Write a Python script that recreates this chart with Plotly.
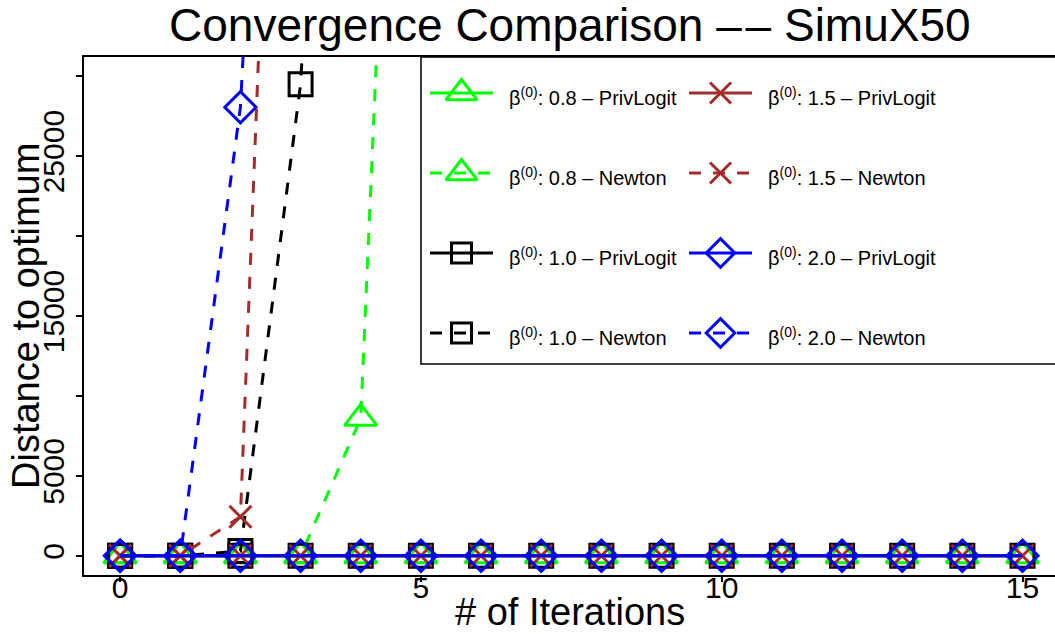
import plotly.graph_objects as go

# ---- data -------------------------------------------------------------
iterations = [0, 1, 2, 3, 4, 5, 6, 7, 8, 9, 10, 11, 12, 13, 14, 15]

# distance to the optimum per iteration (PrivLogit stays at the optimum scale ~0)
privlogit_08 = [0, 0, 0, 0, 0, 0, 0, 0, 0, 0, 0, 0, 0, 0, 0, 0]
privlogit_10 = [0, 0, 0, 0, 0, 0, 0, 0, 0, 0, 0, 0, 0, 0, 0, 0]
privlogit_15 = [0, 0, 0, 0, 0, 0, 0, 0, 0, 0, 0, 0, 0, 0, 0, 0]
privlogit_20 = [0, 0, 0, 0, 0, 0, 0, 0, 0, 0, 0, 0, 0, 0, 0, 0]

# Newton diverges; later iterations are not finite
newton_08 = [0, 0, 0, 0, 8600, 95000] + [None] * 10
newton_10 = [0, 0, 300, 29500, 97000] + [None] * 11
newton_15 = [0, 0, 2440, 98000] + [None] * 12
newton_20 = [0, 0, 28060, 100000] + [None] * 12

series_labels = [
    "β<sup>(0)</sup>: 0.8 – PrivLogit", "β<sup>(0)</sup>: 0.8 – Newton",
    "β<sup>(0)</sup>: 1.0 – PrivLogit", "β<sup>(0)</sup>: 1.0 – Newton",
    "β<sup>(0)</sup>: 1.5 – PrivLogit", "β<sup>(0)</sup>: 1.5 – Newton",
    "β<sup>(0)</sup>: 2.0 – PrivLogit", "β<sup>(0)</sup>: 2.0 – Newton",
]

x_tick_vals = [0, 5, 10, 15]
x_tick_text = ["0", "5", "10", "15"]
y_tick_vals = [0, 5000, 10000, 15000, 20000, 25000, 30000]
y_tick_text = ["0", "5000", "", "15000", "", "25000", ""]

# ---- styles -----------------------------------------------------------
GREEN, BLACK, BROWN, BLUE = "#00FF00", "#000000", "#A52A2A", "#0000FF"
DASH = "12px,12px"
FONT = "Liberation Sans, Arial, Helvetica, sans-serif"

series = [
    (privlogit_08, GREEN, "solid", "triangle-up-open", 28, 27),
    (newton_08, GREEN, DASH, "triangle-up-open", 28, 27),
    (privlogit_10, BLACK, "solid", "square-open", 23, 20),
    (newton_10, BLACK, DASH, "square-open", 23, 20),
    (privlogit_15, BROWN, "solid", "x-thin-open", 22, 21),
    (newton_15, BROWN, DASH, "x-thin-open", 22, 21),
    (privlogit_20, BLUE, "solid", "diamond-open", 24, 22),
    (newton_20, BLUE, DASH, "diamond-open", 24, 22),
]

fig = go.Figure()

for (vals, color, dash, symbol, msize, _), label in zip(series, series_labels):
    fig.add_trace(go.Scatter(
        x=iterations, y=vals, mode="lines+markers", name=label,
        line=dict(color=color, width=3, dash=dash),
        marker=dict(symbol=symbol, size=msize, color=color,
                    line=dict(color=color, width=3)),
        showlegend=False, connectgaps=False,
    ))

# ---- legend drawn on a pixel-scaled overlay axis --------------------
PL, PR, PT, PB = 84, 1055, 57, 575          # plot area in pixels
LEG_LEFT, LEG_BOTTOM = 421, 364
ROW0, ROW_STEP = 93, 80
COL_X = [430, 689]                           # start of each sample line
SAMPLE_W = 63
TEXT_GAP = 77


def paper_x(px):
    return (px - PL) / (PR - PL)


def paper_y(py):
    return (PB - py) / (PB - PT)


shapes = [dict(type="rect", xref="x2", yref="y2", x0=LEG_LEFT, x1=PR + 20,
               y0=PT, y1=LEG_BOTTOM, line=dict(color="black", width=1.5),
               fillcolor="white", layer="below")]
annotations = []

for i, ((vals, color, dash, symbol, _, lsize), label) in enumerate(zip(series, series_labels)):
    col, row = divmod(i, 4)
    x0 = COL_X[col]
    y = ROW0 + row * ROW_STEP
    shapes.append(dict(type="line", xref="x2", yref="y2", x0=x0, x1=x0 + SAMPLE_W,
                       y0=y, y1=y, line=dict(color=color, width=3, dash=dash)))
    fig.add_trace(go.Scatter(
        x=[x0 + SAMPLE_W / 2], y=[y], xaxis="x2", yaxis="y2", mode="markers",
        marker=dict(symbol=symbol, size=lsize, color=color,
                    line=dict(color=color, width=3)),
        showlegend=False, cliponaxis=False, hoverinfo="skip",
    ))
    annotations.append(dict(
        xref="x2", yref="y2", x=x0 + TEXT_GAP, y=y, text=label,
        xanchor="left", yanchor="middle", showarrow=False, yshift=-3,
        font=dict(family=FONT, size=20, color="black"),
    ))

# ---- titles -----------------------------------------------------------
annotations.append(dict(xref="paper", yref="paper", x=paper_x(570), y=paper_y(25),
                        text="Convergence Comparison –\u200a– SimuX50",
                        showarrow=False, xanchor="center", yanchor="middle",
                        font=dict(family=FONT, size=46, color="black")))
annotations.append(dict(xref="paper", yref="paper", x=paper_x(570), y=paper_y(612),
                        text="# of Iterations",
                        showarrow=False, xanchor="center", yanchor="middle",
                        font=dict(family=FONT, size=38, color="black")))
annotations.append(dict(xref="paper", yref="paper", x=paper_x(26), y=paper_y(316),
                        text="Distance to optimum",
                        showarrow=False, xanchor="center", yanchor="middle", textangle=-90,
                        font=dict(family=FONT, size=38, color="black")))

fig.update_layout(
    width=1055, height=634,
    margin=dict(l=PL, r=0, t=PT, b=634 - PB, pad=0),
    paper_bgcolor="white", plot_bgcolor="white",
    font=dict(family=FONT, color="black"),
    showlegend=False,
    xaxis=dict(range=[-0.6, 15.54], tickvals=x_tick_vals, ticktext=x_tick_text,
               showgrid=False, zeroline=False, showline=True, mirror=True,
               linecolor="black", linewidth=1.5, ticks="outside", ticklen=5,
               tickwidth=1.5, tickcolor="black", tickfont=dict(size=30),
               ticklabelstandoff=-20),
    yaxis=dict(range=[-1200, 31200], tickvals=y_tick_vals, ticktext=y_tick_text,
               showgrid=False, zeroline=False, showline=True,
               linecolor="black", linewidth=1.5, ticks="outside", ticklen=6,
               tickwidth=1.5, tickcolor="black", tickangle=-90, tickfont=dict(size=30)),
    xaxis2=dict(range=[PL, PR], overlaying="x", anchor="y2", visible=False),
    yaxis2=dict(range=[PB, PT], overlaying="y", anchor="x2", visible=False),
    shapes=shapes,
    annotations=annotations,
)

fig.write_html("out.html")
